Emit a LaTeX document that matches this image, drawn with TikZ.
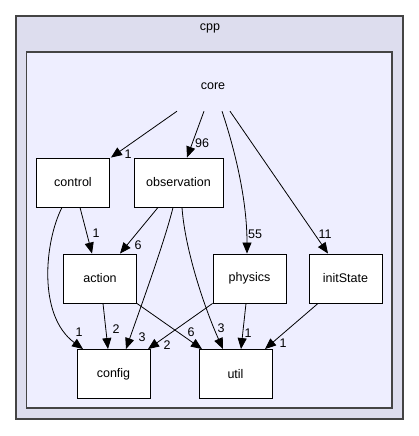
\documentclass[tikz,border=0pt]{standalone}
\usepackage{fontspec}
\setmainfont{Liberation Sans}
\usetikzlibrary{arrows.meta}

\definecolor{outerfill}{HTML}{DDDDEE}
\definecolor{innerfill}{HTML}{EEEEFF}
\definecolor{frame}{HTML}{444444}

\tikzset{
  dirbox/.style={draw=black,fill=white,line width=0.9pt,minimum width=73pt,minimum height=49pt,inner sep=0pt,font=\fontsize{12.5}{14}\selectfont},
  wide/.style={minimum width=89pt},
  elabel/.style={inner sep=0pt,font=\fontsize{12.5}{14}\selectfont},
  dep/.style={->,line width=0.8pt}
}

\begin{document}
\begin{tikzpicture}[x=1pt,y=-1pt,>={Triangle[length=11pt,width=9pt]}]
\useasboundingbox (0,0) rectangle (419,436);

% clusters
\draw[frame,fill=outerfill,line width=1.6pt] (16,16) rectangle (403,419);
\node[elabel] (cpp) at (210,28) {cpp};
\draw[frame,fill=innerfill,line width=1.4pt] (26.5,52) rectangle (392,408);
\node[elabel,minimum height=50pt,minimum width=60pt] (core) at (213,86) {core};

% directories
\node[dirbox] (control) at (73,182.5) {control};
\node[dirbox,wide] (observation) at (178.5,182.5) {observation};
\node[dirbox] (action) at (100,278.5) {action};
\node[dirbox] (physics) at (249.5,278.5) {physics};
\node[dirbox] (initState) at (345.5,278.5) {initState};
\node[dirbox] (config) at (113.5,374) {config};
\node[dirbox] (util) at (235.5,374) {util};

% dependencies out of core
\draw[dep] ([xshift=-36pt]core.south) -- ([xshift=1pt]control.north east);
\draw[dep] ([xshift=-9pt]core.south) -- ([xshift=8.5pt]observation.north);
\draw[dep] ([xshift=9pt]core.south) .. controls +(13,39) and +(0,-54) .. ([xshift=-2.5pt]physics.north);
\draw[dep] ([xshift=17pt]core.south) -- ([xshift=-17.5pt]initState.north);

% the rest
\draw[dep] ([xshift=7pt]control.south) -- ([xshift=-8pt]action.north);
\draw[dep] ([xshift=-11pt]control.south) .. controls +(-17,33) and +(-46,-34) .. ([xshift=-30.5pt]config.north);
\draw[dep] ([xshift=-20.5pt]observation.south) -- ([xshift=20pt]action.north);
\draw[dep] ([xshift=-5.5pt]observation.south) .. controls +(-8,33) and +(14,-40) .. ([xshift=12.5pt]config.north);
\draw[dep] ([xshift=3.5pt]observation.south) .. controls +(3,43) and +(-18,-40) .. ([xshift=-12.5pt]util.north);
\draw[dep] ([xshift=3pt]action.south) -- ([xshift=-5.5pt]config.north);
\draw[dep] (action.south east) -- ([xshift=-33.5pt]util.north);
\draw[dep] (physics.south west) -- ([xshift=34.5pt]config.north);
\draw[dep] ([xshift=-3.5pt]physics.south) -- ([xshift=5.5pt]util.north);
\draw[dep] ([xshift=-27.5pt]initState.south) -- ([xshift=29.5pt]util.north);

% counts
\node[elabel] (n1) at (128,154) {1};
\node[elabel] (n2) at (202,143) {96};
\node[elabel] (n3) at (255,234) {55};
\node[elabel] (n4) at (325,234) {11};
\node[elabel] (n5) at (96,233) {1};
\node[elabel] (n6) at (138,245) {6};
\node[elabel] (n7) at (79,332) {1};
\node[elabel] (n8) at (116,329) {2};
\node[elabel] (n9) at (142,337) {3};
\node[elabel] (n10) at (167,345) {2};
\node[elabel] (n11) at (191,332) {6};
\node[elabel] (n12) at (221,328) {3};
\node[elabel] (n13) at (248,333) {1};
\node[elabel] (n14) at (283,343) {1};
\end{tikzpicture}
\end{document}
